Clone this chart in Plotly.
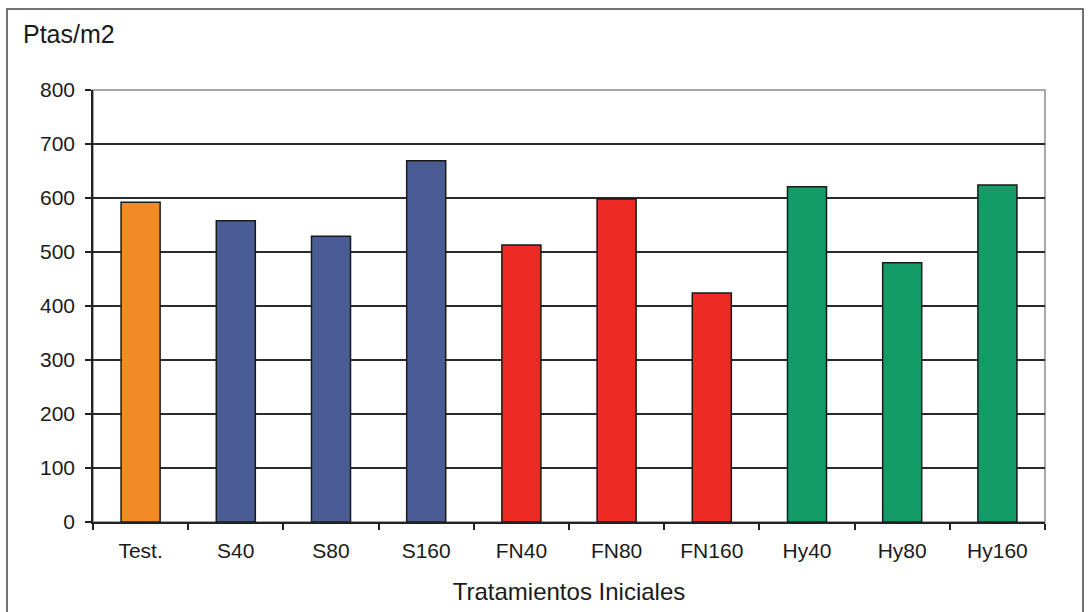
import plotly.graph_objects as go

# Treatment categories and their value (Ptas/m2)
categories = ["Test.", "S40", "S80", "S160", "FN40", "FN80", "FN160", "Hy40", "Hy80", "Hy160"]
values = [592, 558, 529, 669, 513, 598, 424, 621, 480, 624]
bar_colors = ["#F28A26", "#4A5C94", "#4A5C94", "#4A5C94",
              "#EE2A24", "#EE2A24", "#EE2A24",
              "#149C68", "#149C68", "#149C68"]
y_ticks = [0, 100, 200, 300, 400, 500, 600, 700, 800]

W, H = 1091, 612
L, R, T, B = 93, 46, 90, 89.5
pw, ph = W - L - R, H - T - B

fig = go.Figure(go.Bar(
    x=categories, y=values,
    marker=dict(color=bar_colors, line=dict(color="#1a1a1a", width=1.5)),
    width=0.41,
))

font = "Liberation Sans, Arial, sans-serif"

fig.update_layout(
    width=W, height=H,
    margin=dict(l=L, r=R, t=T, b=B),
    paper_bgcolor="white", plot_bgcolor="white",
    showlegend=False,
    font=dict(family=font, color="#1a1a1a", size=21),
    xaxis=dict(
        showline=True, linecolor="#222", linewidth=1.5,
        ticks="outside", tickson="boundaries", ticklen=6, tickcolor="#222", tickwidth=1.5,
        tickfont=dict(size=21), showgrid=False, ticklabelstandoff=9,
        title=dict(text="Tratamientos Iniciales", font=dict(size=24), standoff=22),
    ),
    yaxis=dict(
        range=[0, 800], tickvals=y_ticks,
        showline=True, linecolor="#222", linewidth=1.5,
        ticks="outside", ticklen=6, tickcolor="#222", tickwidth=1.5,
        showgrid=True, gridcolor="#2a2a2a", gridwidth=2,
        tickfont=dict(size=21), zeroline=False, ticklabelstandoff=6,
    ),
    shapes=[
        # plot-area frame (gray, right and top)
        dict(type="rect", xref="paper", yref="paper", x0=0, y0=0, x1=1, y1=1,
             line=dict(color="#8a8a8a", width=1.5), layer="below"),
        # outer chart frame
        dict(type="rect", xref="paper", yref="paper",
             x0=(7 - L) / pw, x1=(1083 - L) / pw,
             y0=-(H + 5 - T - ph) / ph, y1=1 + (T - 9) / ph,
             line=dict(color="#444", width=1.5)),
    ],
    annotations=[
        dict(text="Ptas/m2", xref="paper", yref="paper",
             x=(21 - L) / pw, y=1 + (T - 34) / ph,
             xanchor="left", yanchor="middle", showarrow=False,
             font=dict(size=25, family=font, color="#1a1a1a")),
    ],
)

fig.write_html("out.html")
